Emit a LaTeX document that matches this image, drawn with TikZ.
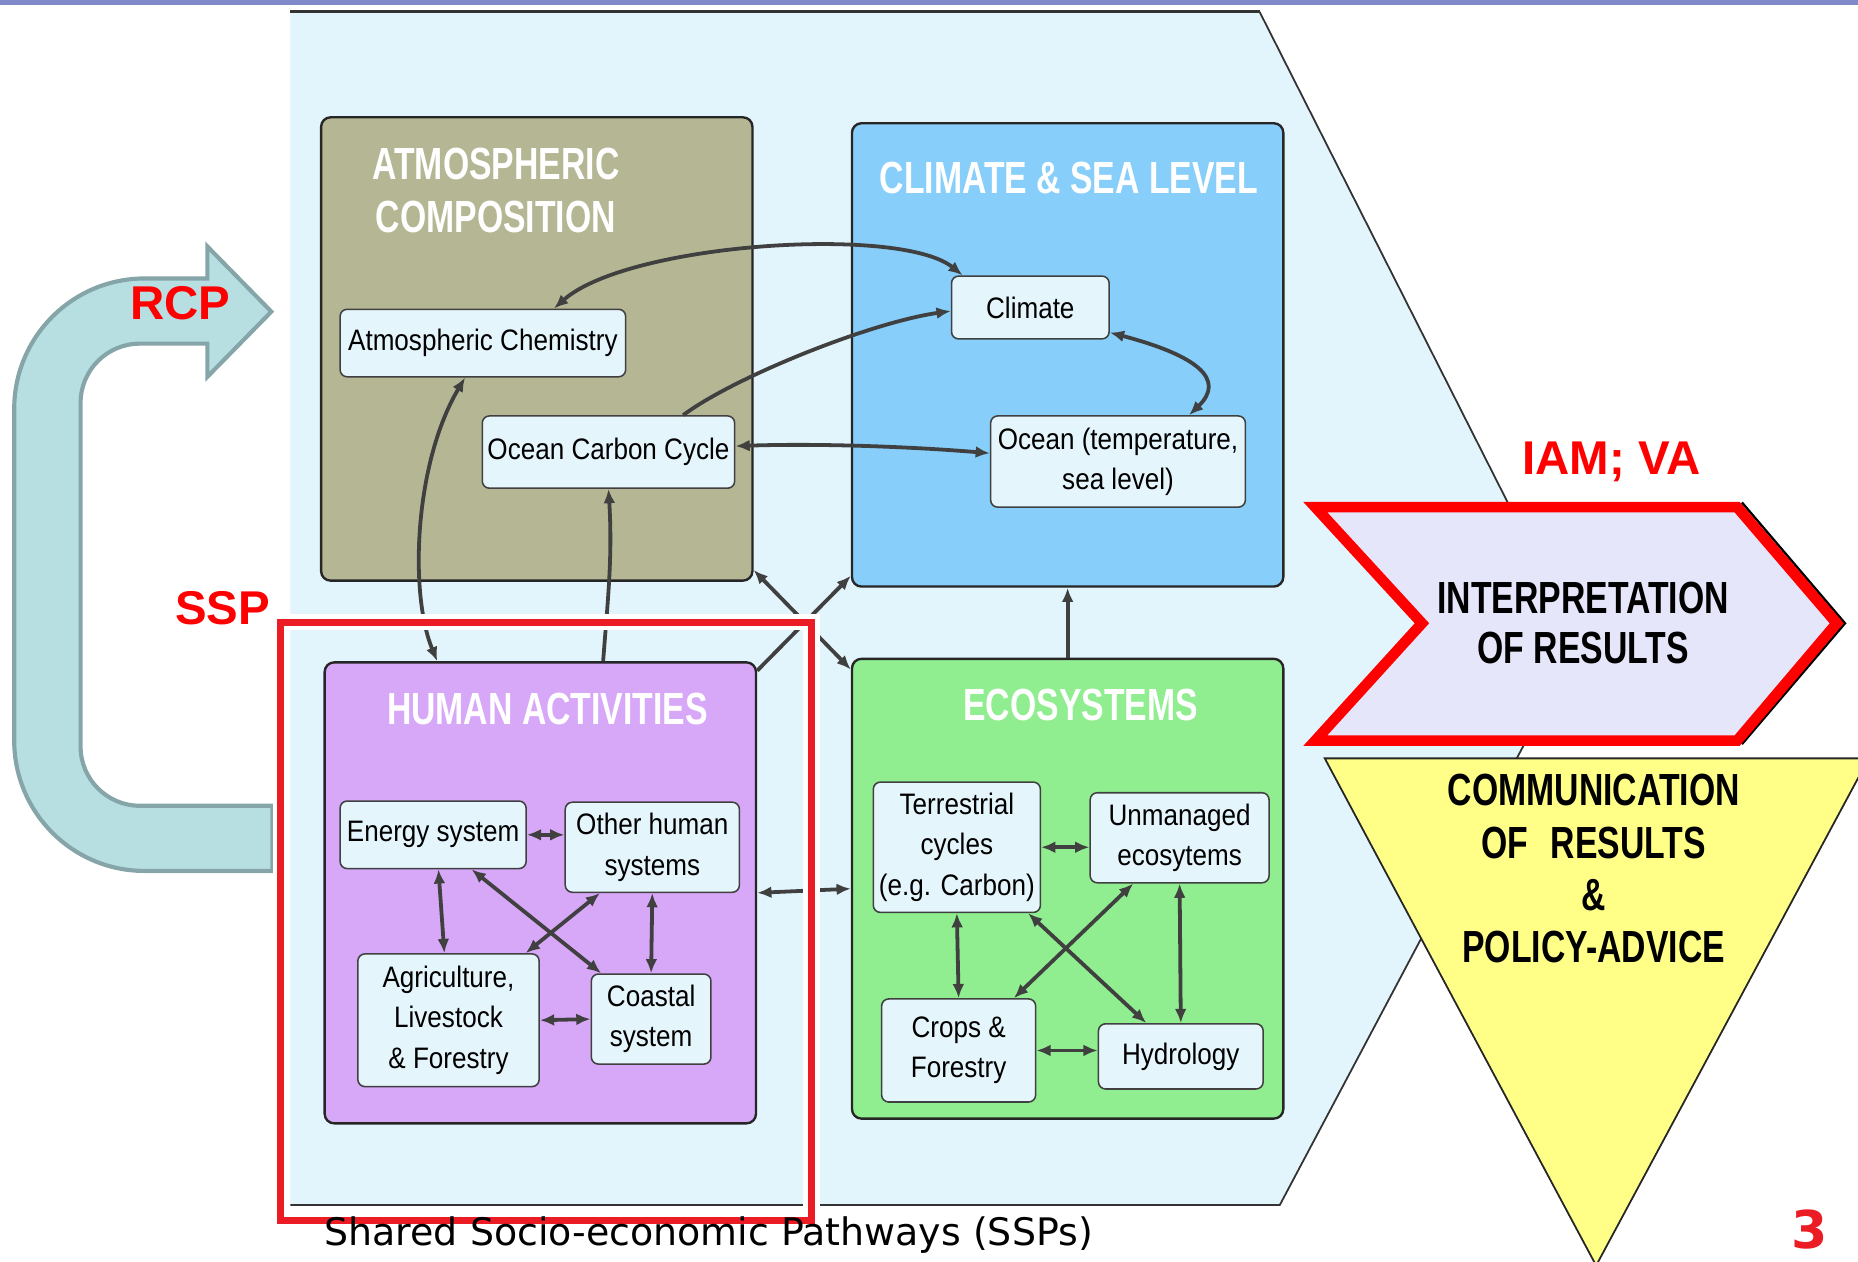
\documentclass[tikz,border=0pt]{standalone}
\usepackage{fontspec}
\setmainfont{Liberation Sans}
\newfontfamily\headfont[FakeStretch=0.75]{Liberation Sans}
\newfontfamily\boxfont[FakeStretch=0.88]{Liberation Sans}
\newfontfamily\notefont{DejaVu Sans}
\usetikzlibrary{arrows.meta}
\definecolor{slidebar}{RGB}{128,138,200}
\definecolor{bgblue}{RGB}{227,245,252}
\definecolor{boxbg}{RGB}{229,245,252}
\definecolor{atmfill}{RGB}{181,183,148}
\definecolor{climfill}{RGB}{135,206,250}
\definecolor{humfill}{RGB}{216,168,248}
\definecolor{ecofill}{RGB}{144,238,144}
\definecolor{rcpfill}{RGB}{183,223,226}
\definecolor{rcpline}{RGB}{133,165,168}
\definecolor{sspred}{RGB}{236,28,36}
\definecolor{chevfill}{RGB}{230,230,250}
\definecolor{commfill}{RGB}{255,255,136}
\definecolor{linkgrey}{RGB}{64,64,64}

\begin{document}
\begin{tikzpicture}[
  x=1pt, y=-1pt,
  bigbox/.style={draw=black!85, line width=2pt, rounded corners=8pt, minimum width=364pt},
  boxtitle/.style={font=\headfont\bfseries\fontsize{38}{45}\selectfont, text=white, align=center},
  inbox/.style={draw=black!75, line width=1.3pt, rounded corners=6pt, fill=boxbg, inner sep=0pt,
    font=\boxfont\fontsize{25}{34}\selectfont, align=center},
  conn/.style={draw=linkgrey, line width=3.2pt},
  both/.style={conn, {Latex[length=12pt,width=10pt]}-{Latex[length=12pt,width=10pt]}},
  one/.style={conn, -{Latex[length=12pt,width=10pt]}},
  redtag/.style={font=\bfseries\fontsize{40}{40}\selectfont, text=red},
  headtext/.style={font=\headfont\bfseries\fontsize{38}{42}\selectfont, align=center}
]
\useasboundingbox (0,0) rectangle (1568,1065);
\fill[slidebar] (0,0) rectangle (1568,4);

% background panel
\fill[bgblue] (245,10) -- (1063,10) -- (1332,542) -- (1080,1017) -- (245,1017) -- cycle;
\draw[black!80, line width=2.5pt] (245,10) -- (1063,10);
\draw[black!80, line width=1.5pt] (1063,10) -- (1332,542) -- (1080,1017) -- (245,1017);

% RCP arrow
\draw[rcpline, line width=3.5pt, fill=rcpfill, line join=miter]
  (230,735) -- (122,735) .. controls (61.25,735) and (12,685.75) .. (12,625)
  -- (12,345) .. controls (12,284.25) and (61.25,235) .. (122,235)
  -- (175,235) -- (175,208) -- (229,263) -- (175,318) -- (175,290)
  -- (118,290) .. controls (90.4,290) and (68,312.4) .. (68,340)
  -- (68,630) .. controls (68,657.6) and (90.4,680) .. (118,680)
  -- (230,680) -- cycle;

% four model blocks
\node[bigbox, fill=atmfill, minimum height=391pt] (atm) at (453,294.5) {};
\node[bigbox, fill=climfill, minimum height=391pt] (clim) at (901,299.5) {};
\node[bigbox, fill=humfill, minimum height=389pt] (hum) at (456,753.5) {};
\node[bigbox, fill=ecofill, minimum height=388pt] (eco) at (901,750) {};
\node[boxtitle] (atmtitle) at (418.5,160.5) {ATMOSPHERIC\\COMPOSITION};
\node[boxtitle] (climtitle) at (902,150) {CLIMATE \& SEA LEVEL};
\node[boxtitle] (humtitle) at (462,598) {HUMAN ACTIVITIES};
\node[boxtitle] (ecotitle) at (912,595) {ECOSYSTEMS};

% components
\node[inbox, minimum width=241pt, minimum height=57pt] (atmchem) at (407.5,289.5) {Atmospheric Chemistry};
\node[inbox, minimum width=213pt, minimum height=61pt] (occarb) at (513.5,381.5) {Ocean Carbon Cycle};
\node[inbox, minimum width=133pt, minimum height=53pt] (climate) at (869.5,259.5) {Climate};
\node[inbox, minimum width=215pt, minimum height=77pt] (ocean) at (943.5,389.5) {Ocean (temperature,\\sea level)};
\node[inbox, minimum width=157pt, minimum height=57pt] (energy) at (365.5,704.5) {Energy system};
\node[inbox, minimum width=147pt, minimum height=76pt] (other) at (550.5,715) {Other human\\systems};
\node[inbox, minimum width=153pt, minimum height=112pt] (agri) at (378.5,861) {Agriculture,\\Livestock\\\& Forestry};
\node[inbox, minimum width=101pt, minimum height=76pt] (coast) at (549.5,860) {Coastal\\system};
\node[inbox, minimum width=141pt, minimum height=110pt] (terr) at (807.5,715) {Terrestrial\\cycles\\(e.g. Carbon)};
\node[inbox, minimum width=151pt, minimum height=76pt] (unman) at (995.5,707) {Unmanaged\\ecosytems};
\node[inbox, minimum width=130pt, minimum height=87pt] (crops) at (809,886.5) {Crops \&\\Forestry};
\node[inbox, minimum width=139pt, minimum height=55pt] (hydro) at (996.5,891.5) {Hydrology};

% links in the upper blocks
\draw[both] ([xshift=60pt]atmchem.north) .. controls (530,205) and (760,190) .. ([xshift=10pt]climate.north west);
\draw[one] ([xshift=63pt]occarb.north) .. controls (620,318) and (735,272) .. ([yshift=-3pt]climate.west);
\draw[both] ([yshift=5pt]occarb.east) .. controls (690,374) and (770,377) .. ([yshift=7pt]ocean.west);
\draw[both] ([xshift=60pt]ocean.north) .. controls (1035,320) and (1010,300) .. ([yshift=6pt]climate.south east);
\draw[both] ([xshift=-87pt]hum.north) .. controls (345,500) and (350,390) .. ([xshift=-15pt]atmchem.south);
\draw[one] ([xshift=53pt]hum.north) .. controls (513,505) and (517,470) .. (occarb.south);

% links between blocks
\draw[one] ([yshift=-8pt]hum.north east) -- ([yshift=10pt]clim.south west);
\draw[both] ([yshift=10pt]atm.south east) -- ([yshift=-10pt]eco.north west);
\draw[both] (hum.east) -- (eco.west);
\draw[one] (eco.north) -- (clim.south);

% links in human activities
\draw[both] (energy.east) -- (energy.east -| other.west);
\draw[both] ([xshift=4.5pt]energy.south) -- ([xshift=-3.5pt]agri.north);
\draw[both] ([xshift=32.5pt]energy.south) -- ([xshift=9pt]coast.north west);
\draw[both] ([xshift=30pt]other.south west) -- ([xshift=-12pt]agri.north east);
\draw[both] (other.south) -- (coast.north);
\draw[both] (agri.east) -- (coast.west);

% links in ecosystems
\draw[both] (terr.east) -- (terr.east -| unman.west);
\draw[both] (terr.south) -- (crops.north);
\draw[both] ([xshift=-11pt]terr.south east) -- ([xshift=41pt]hydro.north west);
\draw[both] ([xshift=37pt]unman.south west) -- ([xshift=-19pt]crops.north east);
\draw[both] (unman.south) -- (hydro.north);
\draw[both] (crops.east) -- (crops.east -| hydro.west);

% SSP frame
\draw[white, line width=14pt] (237,525) rectangle (685,1030);
\draw[sspred, line width=6pt] (237,525) rectangle (685,1030);

% interpretation and communication
\draw[black, line width=2pt] (1470,424) -- (1557,526) -- (1470,628);
\draw[red, line width=9pt, fill=chevfill, line join=miter]
  (1110,428) -- (1466,428) -- (1550,526) -- (1466,625) -- (1110,625) -- (1200,526) -- cycle;
\draw[black!85, line width=1.5pt, fill=commfill] (1118,640) -- (1577,640) -- (1347,1068) -- cycle;
\node[headtext] (interp) at (1336,526) {INTERPRETATION\\OF RESULTS};
\node[headtext, font=\headfont\bfseries\fontsize{38}{44}\selectfont] (comm) at (1345,733)
  {COMMUNICATION\\OF\enspace RESULTS\\\&\\POLICY-ADVICE};

% labels
\node[redtag] (rcp) at (152,256) {RCP};
\node[redtag] (ssp) at (188,513) {SSP};
\node[redtag] (iam) at (1360,390) {IAM; VA};
\node[font=\notefont\fontsize{32}{36}\selectfont] (sspnote) at (598,1042) {Shared Socio-economic Pathways (SSPs)};
\node[font=\notefont\bfseries\fontsize{44}{44}\selectfont, text=sspred] (pagenum) at (1527,1038) {3};
\end{tikzpicture}
\end{document}
